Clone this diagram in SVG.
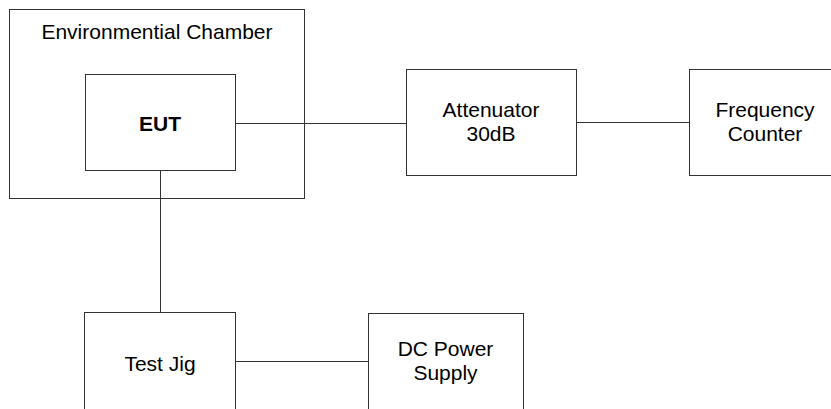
<svg xmlns="http://www.w3.org/2000/svg" width="831" height="409" viewBox="0 0 831 409">
<style>
rect{fill:#fff;stroke:#333;stroke-width:1}
line{stroke:#333;stroke-width:1}
text{font-family:"Liberation Sans",Arial,sans-serif;font-size:21px;fill:#000;text-anchor:middle}
.b{font-weight:bold}
</style>
<rect x="0" y="0" width="831" height="409" style="stroke:none"/>
<g id="chamber">
<rect x="9.5" y="9.5" width="295" height="189"/>
<text x="157" y="39">Environmential Chamber</text>
</g>
<g id="connectors">
<line x1="236" y1="123.5" x2="406" y2="123.5"/>
<line x1="576" y1="122.5" x2="690" y2="122.5"/>
<line x1="160.5" y1="171" x2="160.5" y2="313"/>
<line x1="236" y1="361.5" x2="368" y2="361.5"/>
</g>
<g id="eut">
<rect x="85.5" y="74.5" width="150" height="96"/>
<text class="b" x="160" y="131">EUT</text>
</g>
<g id="attenuator">
<rect x="406.5" y="69.5" width="170" height="106"/>
<text x="491" y="117">Attenuator</text>
<text x="491" y="141">30dB</text>
</g>
<g id="counter">
<rect x="689.5" y="69.5" width="160" height="106"/>
<text x="765" y="117">Frequency</text>
<text x="765" y="141">Counter</text>
</g>
<g id="testjig">
<rect x="84.5" y="312.5" width="151" height="110"/>
<text x="160" y="371">Test Jig</text>
</g>
<g id="dcpower">
<rect x="368.5" y="313.5" width="155" height="110"/>
<text x="445.5" y="356">DC Power</text>
<text x="445.5" y="380">Supply</text>
</g>
</svg>
